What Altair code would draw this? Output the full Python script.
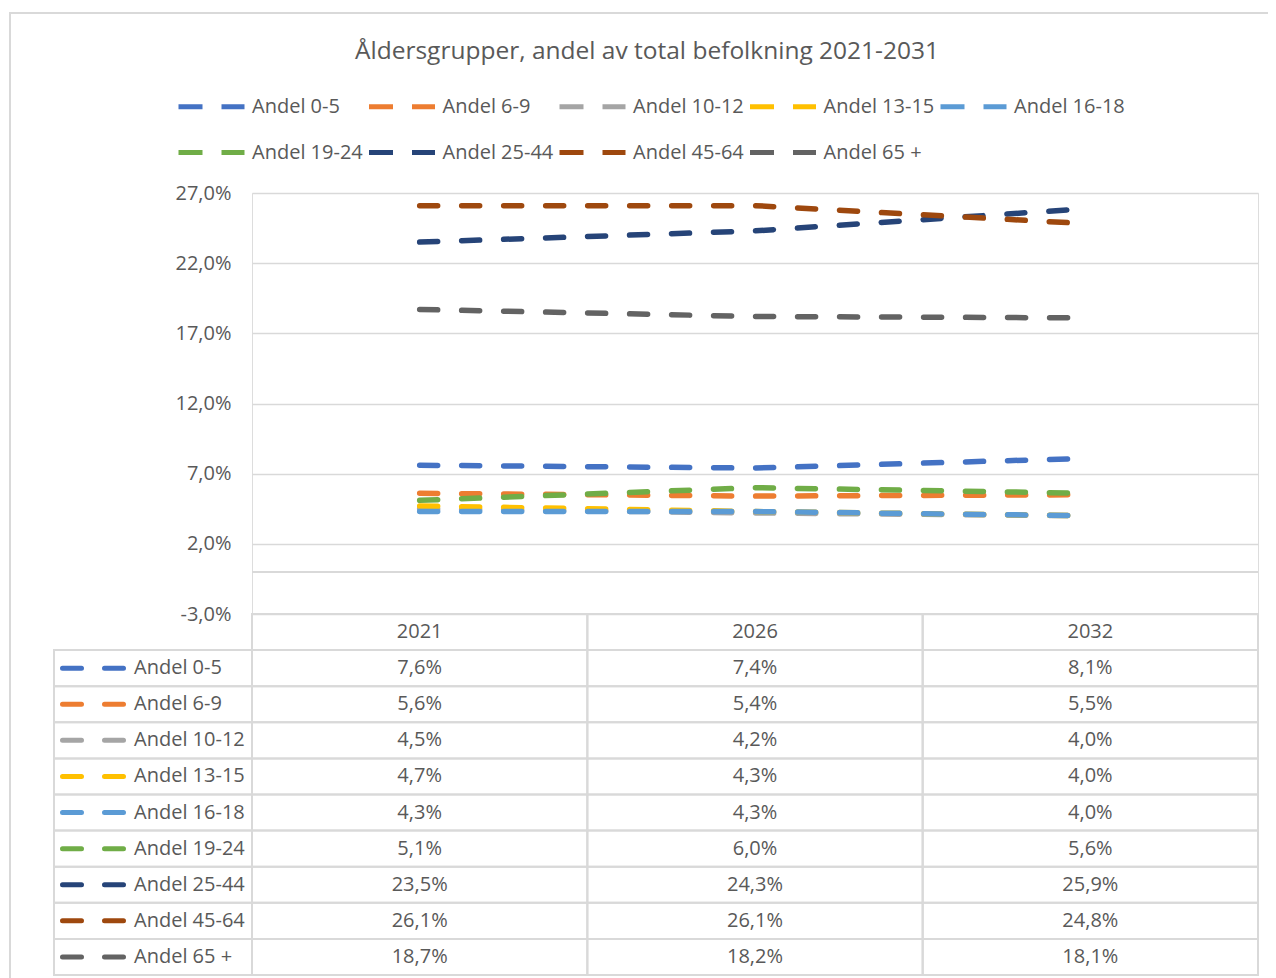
import altair as alt
import pandas as pd

title_text = "Åldersgrupper, andel av total befolkning 2021-2031"
years = ["2021", "2026", "2032"]
series = ["Andel 0-5", "Andel 6-9", "Andel 10-12", "Andel 13-15", "Andel 16-18",
          "Andel 19-24", "Andel 25-44", "Andel 45-64", "Andel 65 +"]
colors = ["#4472C4", "#ED7D31", "#A5A5A5", "#FFC000", "#5B9BD5",
          "#70AD47", "#264478", "#9E480E", "#636363"]

v_0_5 = [7.6, 7.4, 8.1]
v_6_9 = [5.6, 5.4, 5.5]
v_10_12 = [4.5, 4.2, 4.0]
v_13_15 = [4.7, 4.3, 4.0]
v_16_18 = [4.3, 4.3, 4.0]
v_19_24 = [5.1, 6.0, 5.6]
v_25_44 = [23.5, 24.3, 25.9]
v_45_64 = [26.1, 26.1, 24.8]
v_65 = [18.7, 18.2, 18.1]
series_values = [v_0_5, v_6_9, v_10_12, v_13_15, v_16_18, v_19_24, v_25_44, v_45_64, v_65]

y_ticks = [-3, 2, 7, 12, 17, 22, 27]
HEADER = "År"

rows = []
for s, c, vals in zip(series, colors, series_values):
    for yr, v in zip(years, vals):
        rows.append({"series": s, "year": yr, "value": v, "hex": c,
                     "label": f"{v:.1f}".replace(".", ",") + "%"})
df = pd.DataFrame(rows)
keys_df = pd.DataFrame({"series": series, "hex": colors})
header_df = pd.DataFrame({"year": years, "row": [HEADER] * len(years)})
row_domain = [HEADER] + series
cells_df = pd.DataFrame([{"year": y, "row": r} for r in row_domain for y in years])
one = pd.DataFrame({"a": [0]})

W, H = 1006, 782
PLOT_H = 421
GRAY = "#595959"
GRID = "#d9d9d9"
FONT = "Open Sans"

xs_line = alt.Scale(type="point", domain=years, padding=0.5)
xs_band = alt.Scale(type="band", domain=years, paddingInner=0, paddingOuter=0)
ys_line = alt.Scale(domain=[-3, 27], range=[PLOT_H, 0], nice=False, zero=False)
ys_rows = alt.Scale(type="band", domain=row_domain, range=[PLOT_H, H], paddingInner=0, paddingOuter=0)

frame = alt.Chart(one).mark_rect(fillOpacity=0, stroke=GRID, strokeWidth=2).encode(
    x=alt.value(-242), x2=alt.value(1100), y=alt.value(-180), y2=alt.value(900))

zero = alt.Chart(pd.DataFrame({"v": [0]})).mark_rule(color=GRID, strokeWidth=2).encode(
    y=alt.Y("v:Q", scale=ys_line, axis=None))

cells = alt.Chart(cells_df).mark_rect(fillOpacity=0, stroke=GRID, strokeWidth=2).encode(
    x=alt.X("year:N", scale=xs_band, axis=None),
    y=alt.Y("row:N", scale=ys_rows, axis=None))

key_cells = alt.Chart(keys_df).mark_rect(fillOpacity=0, stroke=GRID, strokeWidth=2).encode(
    x=alt.value(-198), x2=alt.value(0),
    y=alt.Y("series:N", scale=ys_rows, axis=None))

header = alt.Chart(header_df).mark_text(font=FONT, fontSize=20, color=GRAY, align="center", baseline="middle").encode(
    x=alt.X("year:N", scale=xs_band, axis=None, bandPosition=0.5),
    y=alt.Y("row:N", scale=ys_rows, axis=None, bandPosition=0.5),
    text="year:N")

values_text = alt.Chart(df).mark_text(font=FONT, fontSize=20, color=GRAY, align="center", baseline="middle").encode(
    x=alt.X("year:N", scale=xs_band, axis=None, bandPosition=0.5),
    y=alt.Y("series:N", scale=ys_rows, axis=None, bandPosition=0.5),
    text="label:N")

keys = alt.Chart(keys_df).mark_rule(strokeWidth=5, strokeDash=[19, 23], strokeCap="round").encode(
    x=alt.value(-189.5), x2=alt.value(-128.5),
    y=alt.Y("series:N", scale=ys_rows, axis=None, bandPosition=0.5),
    color=alt.Color("hex:N", scale=None))

key_labels = alt.Chart(keys_df).mark_text(font=FONT, fontSize=20, color=GRAY, align="left", baseline="middle").encode(
    x=alt.value(-118),
    y=alt.Y("series:N", scale=ys_rows, axis=None, bandPosition=0.5),
    text="series:N")

lines = alt.Chart(df).mark_line(strokeWidth=5.5, strokeDash=[18, 24], strokeCap="round").encode(
    x=alt.X("year:N", scale=xs_line, axis=None),
    y=alt.Y("value:Q", scale=ys_line,
            axis=alt.Axis(values=y_ticks, title=None, grid=True, gridColor=GRID, gridWidth=1.5,
                          domain=False, ticks=False, labelPadding=21, labelFont=FONT,
                          labelFontSize=20, labelColor=GRAY,
                          labelExpr="replace(replace(format(datum.value, '.1f'), '.', ','), '−', '-') + '%'")),
    color=alt.Color("series:N", scale=alt.Scale(domain=series, range=colors),
                    legend=alt.Legend(orient="none", legendX=-76, legendY=-122, direction="horizontal",
                                      columns=5, title=None, symbolType="stroke", symbolSize=4356,
                                      symbolStrokeWidth=5, symbolDash=[24, 19], labelFont=FONT,
                                      labelFontSize=20, labelColor=GRAY, labelOffset=5,
                                      columnPadding=-4.5, rowPadding=-12, labelLimit=300, gridAlign="all")),
    order=alt.Order("year:N"))

chart = alt.layer(frame, zero, cells, key_cells, header, values_text, keys, key_labels, lines).resolve_scale(
    x="independent", y="independent"
).properties(
    width=W, height=H,
    title=alt.TitleParams(text=title_text, font=FONT, fontSize=24.5, fontWeight="normal", color=GRAY,
                          anchor="middle", frame="group", dx=-108, baseline="middle", offset=-64),
    padding={"left": 244, "top": 185, "right": 10, "bottom": 3},
    autosize=alt.AutoSizeParams(type="none"),
).configure_view(stroke=None).configure(font=FONT)

chart.save("out.html", embed_options={"renderer": "svg", "actions": False})
